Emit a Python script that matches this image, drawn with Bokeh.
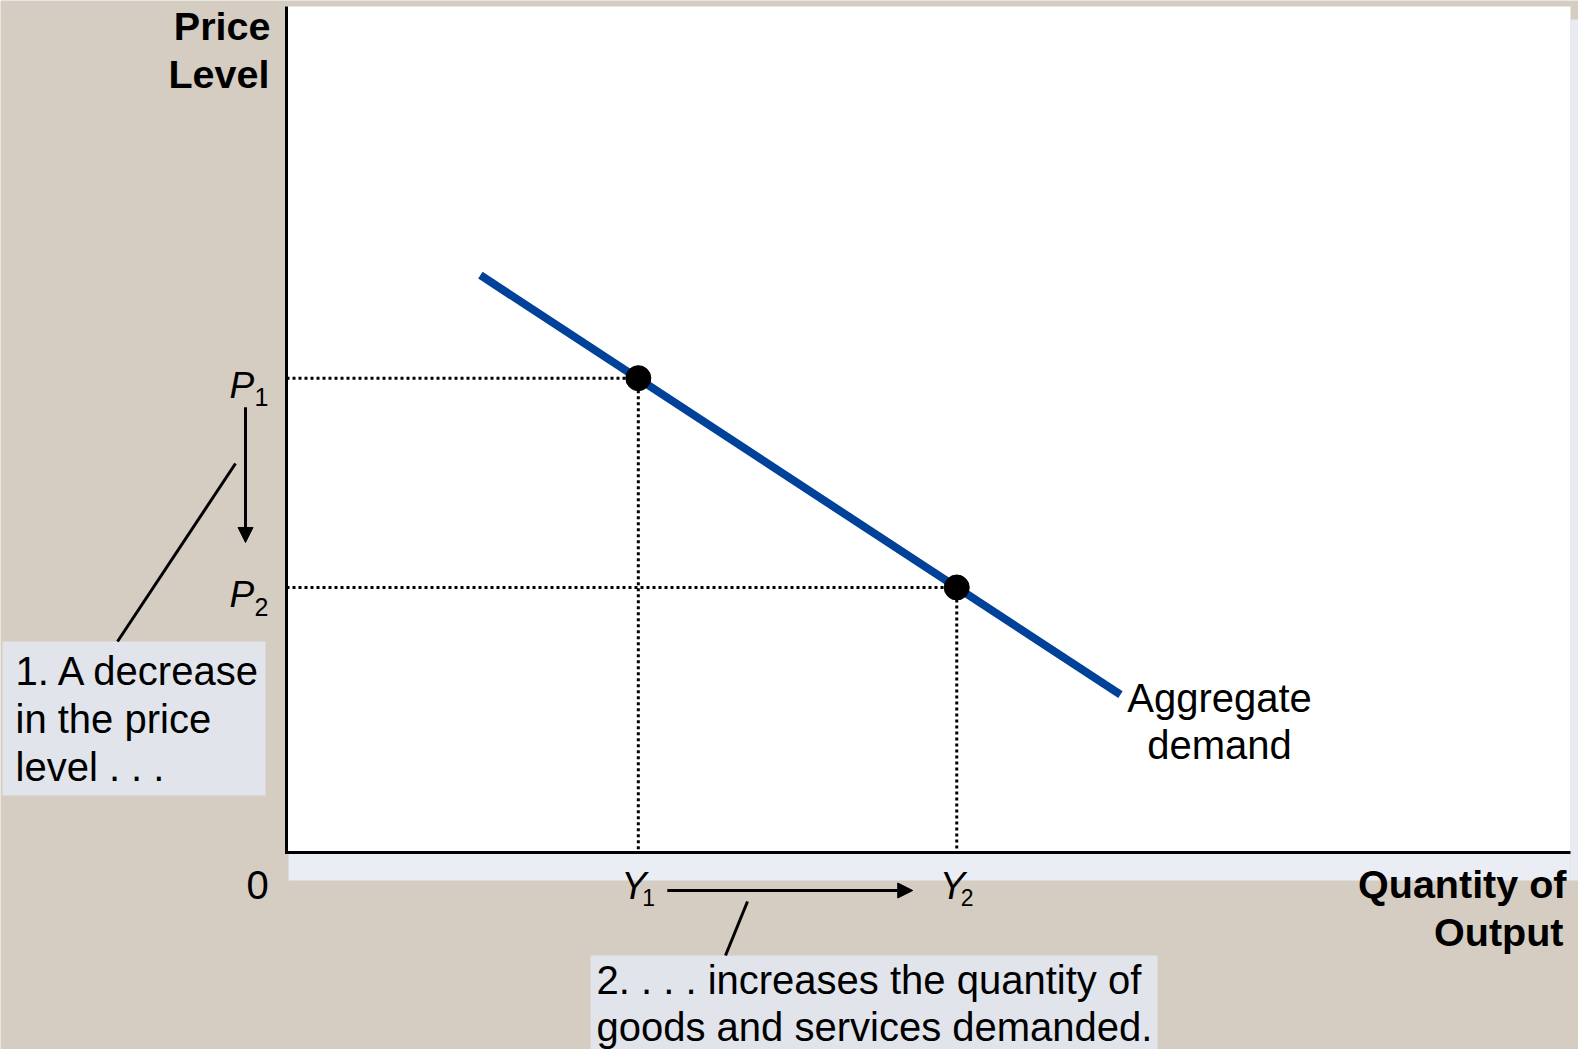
from bokeh.plotting import figure
from bokeh.models import Range1d, Label, Arrow, NormalHead
from bokeh.embed import file_html
from bokeh.resources import INLINE

# ---- data (axis units 0..100) ----
ad_x = [15.1, 64.95]          # aggregate demand curve end points (quantity)
ad_y = [68.4, 18.7]           # aggregate demand curve end points (price level)
eq_subs = ["1", "2"]
Y_vals = [27.4, 52.2]         # Y1, Y2
P_vals = [56.2, 31.4]         # P1, P2
box1_lines = ["1. A decrease", "in the price", "level . . ."]
box2_lines = ["2. . . . increases the quantity of", "goods and services demanded."]
ylab_lines = ["Price", "Level"]
xlab_lines = ["Quantity of", "Output"]
curve_lines = ["Aggregate", "demand"]

W, H = 1578, 1049
FW, FH = 1284, 844            # pixel size of the 0..100 axis box
OX, OY = 286, 852             # canvas pixel of the data origin
TBK = 0.355                   # text baseline correction (fraction of font size)


def px(d):
    return d * 100.0 / FW


def py(d):
    return d * 100.0 / FH


def RX(rx):
    return (rx - OX) * 100.0 / FW


def RY(ry):
    return (OY - ry) * 100.0 / FH


BG = "#D5CDC2"
BOXC = "#E1E4EA"
FONT = "Liberation Sans"

p = figure(width=W, height=H, output_backend="svg", toolbar_location=None,
           x_range=Range1d(RX(0), RX(W)), y_range=Range1d(RY(H), RY(0)),
           min_border=0)
p.axis.visible = False
p.background_fill_color = BG
p.border_fill_color = BG
p.outline_line_color = None
p.grid.visible = False

# plot area and strips
p.quad(left=0, right=100, bottom=0, top=RY(6), fill_color="white", line_color=None)
p.quad(left=RX(288), right=100, top=0, bottom=RY(880), fill_color="#EAEDF3", line_color=None)
p.quad(left=100, right=RX(1580), top=RY(19), bottom=RY(880), fill_color="#E8EBF1", line_color=None)

# text boxes
p.quad(left=RX(2), right=RX(265), top=RY(641), bottom=RY(795), fill_color=BOXC, line_color=None)
p.quad(left=RX(590), right=RX(1157), top=RY(955), bottom=RY(1060), fill_color=BOXC, line_color=None)

# dotted guides
p.segment(x0=[0, 0], y0=P_vals, x1=Y_vals, y1=P_vals, line_color="black",
          line_width=3, line_dash="3 3")
p.segment(x0=Y_vals, y0=P_vals, x1=Y_vals, y1=[0, 0], line_color="black",
          line_width=3, line_dash="3 3")

# axes
p.line([0, 0, 100], [RY(6), 0, 0], line_color="black", line_width=3, line_join="miter")

# aggregate demand curve
p.line(ad_x, ad_y, line_width=8, line_color="#00419A", line_cap="butt")
p.scatter(Y_vals, P_vals, size=25, fill_color="black", line_color="black")


def lab(x, y, t, size=40, style="normal", align="left"):
    p.add_layout(Label(x=x, y=y + py(TBK * size), text=t, text_font=FONT,
                       text_font_size=f"{size}px", text_font_style=style, text_align=align,
                       text_baseline="alphabetic", text_color="black"))


# axis titles
lab(RX(270), RY(40), ylab_lines[0], size=39.5, style="bold", align="right")
lab(RX(269), RY(88), ylab_lines[1], size=39.5, style="bold", align="right")
lab(RX(1566), RY(898), xlab_lines[0], size=39.5, style="bold", align="right")
lab(RX(1563), RY(946), xlab_lines[1], size=39.5, style="bold", align="right")
lab(RX(257), RY(899), "0", align="center")

# curve label
lab(RX(1219), RY(712), curve_lines[0], align="center")
lab(RX(1219), RY(759), curve_lines[1], align="center")

# P labels
for pv, s in zip(P_vals, eq_subs):
    lab(-px(57), pv - py(20), "P", size=37, style="italic")
    lab(-px(32), pv - py(28), s, size=25)

# Y labels
for yv, s in zip(Y_vals, eq_subs):
    lab(yv - px(17), -py(47), "Y", size=38, style="italic")
    lab(yv + px(4), -py(53), s, size=23)

# box texts
for i, t in enumerate(box1_lines):
    lab(RX(15), RY(685 + 48 * i), t)
for i, t in enumerate(box2_lines):
    lab(RX(596), RY(994 + 47 * i), t)

# arrows
p.add_layout(Arrow(end=NormalHead(size=15, fill_color="black", line_color="black"),
                   x_start=-px(41), y_start=P_vals[0] - py(29),
                   x_end=-px(41), y_end=P_vals[1] + py(45),
                   line_width=3, line_color="black"))
p.add_layout(Arrow(end=NormalHead(size=15, fill_color="black", line_color="black"),
                   x_start=Y_vals[0] + px(29), y_start=-py(38),
                   x_end=Y_vals[1] - px(44), y_end=-py(38),
                   line_width=3, line_color="black"))
# leader lines
p.add_layout(Arrow(end=None, x_start=RX(235), y_start=RY(463), x_end=RX(117), y_end=RY(641),
                   line_width=3, line_color="black"))
p.add_layout(Arrow(end=None, x_start=RX(747), y_start=RY(901), x_end=RX(725), y_end=RY(955),
                   line_width=3, line_color="black"))

open("out.html", "w").write(file_html(p, INLINE))
